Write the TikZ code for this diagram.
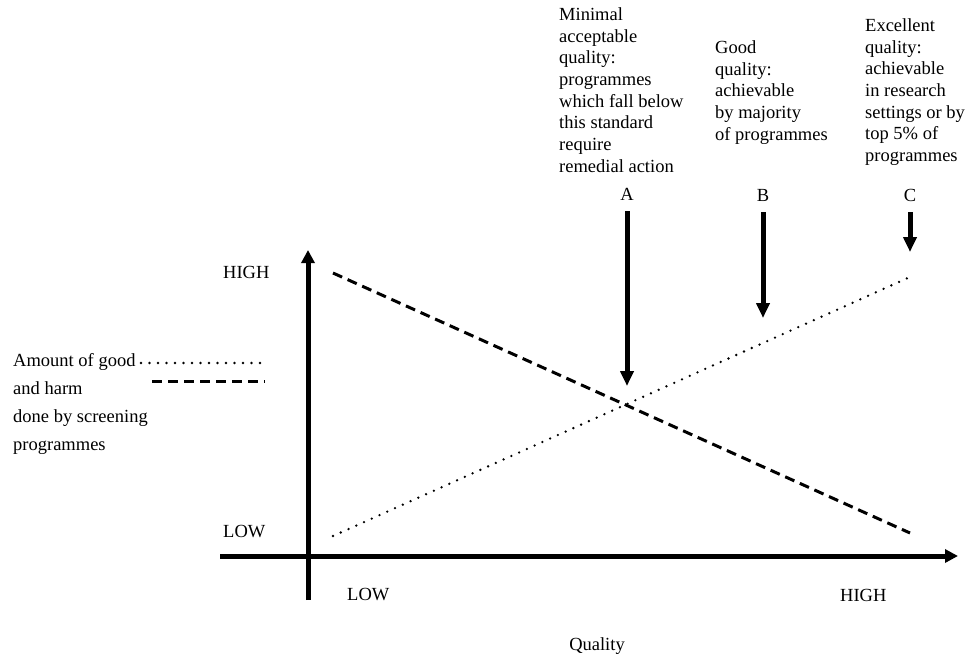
\documentclass[tikz,border=0pt]{standalone}
\usepackage{fontspec}
\setmainfont{Liberation Serif}
\usetikzlibrary{arrows.meta}

\tikzset{
  txt/.style={font=\fontsize{18.5}{21.7}\selectfont, inner sep=0pt},
  axis/.style={line width=5pt, -{Triangle[length=13pt,width=13pt]}},
  pointer/.style={line width=5pt, -{Triangle[length=15pt,width=13pt]}},
  good/.style={line width=2.6pt, line cap=round, dash pattern=on 0pt off 8.5pt},
  harm/.style={line width=3pt, dash pattern=on 10pt off 6pt},
}

\begin{document}
\begin{tikzpicture}[x=1pt,y=-1pt]
  \def\ox{308}
  \def\oy{556}
  \useasboundingbox (0,0) rectangle (978,656);

  % axes
  \draw [axis](\ox,600) -- (\ox,250);
  \draw [axis](220,\oy) -- (958,\oy);
  \node [txt, anchor=base west] (yhigh) at (223,278) {HIGH};
  \node [txt, anchor=base west] (ylow) at (223,537) {LOW};
  \node [txt, anchor=base west] (xlow) at (347,600) {LOW};
  \node [txt, anchor=base west] (xhigh) at (840,601) {HIGH};
  \node [txt, anchor=base] (quality) at (597,650) {Quality};

  % good and harm
  \draw [harm](333,273) -- (910,533);
  \draw [good](333,536) -- (910,277);

  % legend
  \node [txt, anchor=base west] (leg1) at (13,366) {Amount of good};
  \node [txt, anchor=base west] (leg2) at (13,394) {and harm};
  \node [txt, anchor=base west] (leg3) at (13,422) {done by screening};
  \node [txt, anchor=base west] (leg4) at (13,450) {programmes};
  \draw [good](141,363) -- (263,363);
  \draw [harm](152,381) -- (265,381);

  % quality levels
  \node [txt, anchor=north west, align=left] (blkA) at (559,7.3)
    {Minimal\\acceptable\\quality:\\programmes\\which fall below\\this standard\\require\\remedial action};
  \node [txt, anchor=north west, align=left] (blkB) at (715,40.3)
    {Good\\quality:\\achievable\\by majority\\of programmes};
  \node [txt, anchor=north west, align=left] (blkC) at (865,18.3)
    {Excellent\\quality:\\achievable\\in research\\settings or by\\top 5\% of\\programmes};

  \node [txt, anchor=base] (labA) at (627,200) {A};
  \node [txt, anchor=base] (labB) at (763,201) {B};
  \node [txt, anchor=base] (labC) at (910,201) {C};
  \coordinate (tipA) at (627,386);
  \coordinate (tipB) at (763,318);
  \coordinate (tipC) at (910,252);
  \draw [pointer]([yshift=-11pt]labA.south) -- (tipA);
  \draw [pointer]([yshift=-11pt]labB.south) -- (tipB);
  \draw [pointer]([yshift=-11pt]labC.south) -- (tipC);
\end{tikzpicture}
\end{document}
